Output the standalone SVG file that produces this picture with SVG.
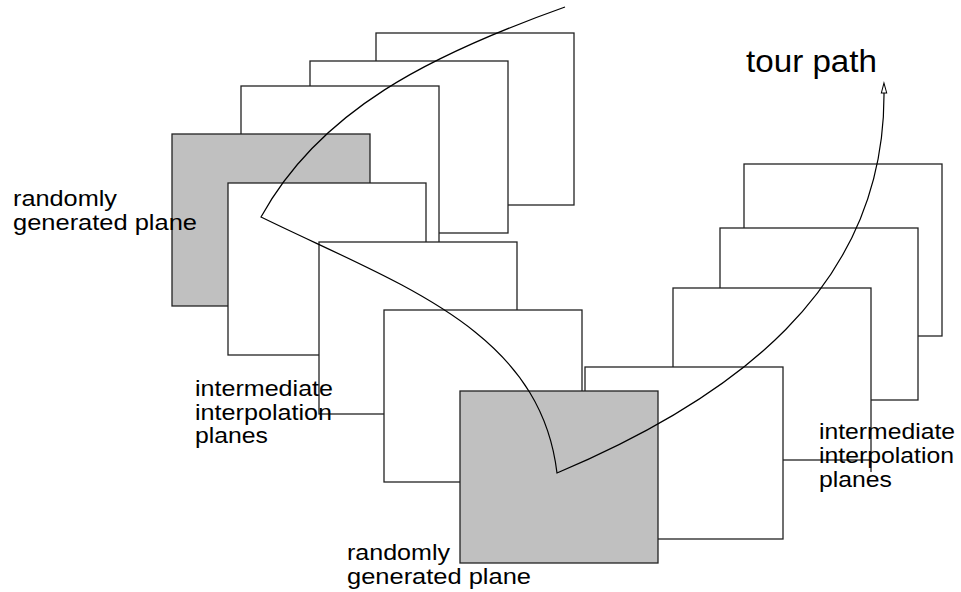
<svg xmlns="http://www.w3.org/2000/svg" width="961" height="592" viewBox="0 0 961 592">
  <style>
    .pl { fill: #ffffff; stroke: #222222; stroke-width: 1.3; }
    .gr { fill: #c0c0c0; stroke: #222222; stroke-width: 1.3; }
    .edge { stroke: #222222; stroke-width: 1.3; fill: none; }
    .tour { fill: none; stroke: #000000; stroke-width: 1.2; }
    .lbl { font-family: "Liberation Sans", Arial, Helvetica, sans-serif; font-size: 22px; fill: #000000; }
    .big { font-family: "Liberation Sans", Arial, Helvetica, sans-serif; font-size: 31px; fill: #000000; }
  </style>
  <defs>
    <marker id="arr" markerUnits="userSpaceOnUse" markerWidth="14" markerHeight="10" viewBox="0 0 14 10" refX="1" refY="5" orient="auto">
      <polygon points="1,2.3 11,5 1,7.7" fill="#ffffff" stroke="#000000" stroke-width="1"/>
    </marker>
  </defs>
  <rect width="961" height="592" fill="#ffffff"/>

  <g id="plane-a"><rect class="pl" x="376" y="33" width="198" height="172"/></g>
  <g id="plane-b"><rect class="pl" x="310" y="61" width="198" height="172"/></g>
  <g id="plane-c"><rect class="pl" x="241" y="86" width="198" height="172"/></g>
  <g id="plane-d"><rect class="gr" x="172" y="134" width="198" height="172"/></g>
  <g id="plane-e"><rect class="pl" x="228" y="183" width="198" height="172"/></g>
  <g id="plane-f"><rect class="pl" x="319" y="242" width="198" height="172"/></g>
  <g id="plane-g"><rect class="pl" x="384" y="310" width="198" height="172"/></g>

  <g id="plane-l"><rect class="pl" x="744" y="164" width="198" height="172"/></g>
  <g id="plane-k"><rect class="pl" x="720" y="228" width="198" height="172"/></g>
  <g id="plane-j"><rect class="pl" x="673" y="288" width="198" height="172"/><line class="edge" x1="871" y1="460" x2="871" y2="472"/></g>
  <g id="plane-i"><rect class="pl" x="585" y="367" width="198" height="172"/></g>
  <g id="plane-h"><rect class="gr" x="460" y="391" width="198" height="172"/></g>

  <g id="connectors">
    <path class="tour" d="M565,7 C430,55 320,110 261,217 C400,285 540,330 557,473 C730,400 885,290 884,93" marker-end="url(#arr)"/>
  </g>

  <g id="label-random-left">
    <text class="lbl" x="13" y="206" textLength="104" lengthAdjust="spacingAndGlyphs">randomly</text>
    <text class="lbl" x="13" y="230" textLength="184" lengthAdjust="spacingAndGlyphs">generated plane</text>
  </g>
  <g id="label-interp-left">
    <text class="lbl" x="195" y="396" textLength="138" lengthAdjust="spacingAndGlyphs">intermediate</text>
    <text class="lbl" x="195" y="420" textLength="137" lengthAdjust="spacingAndGlyphs">interpolation</text>
    <text class="lbl" x="195" y="443" textLength="73" lengthAdjust="spacingAndGlyphs">planes</text>
  </g>
  <g id="label-interp-right">
    <text class="lbl" x="819" y="439" textLength="136" lengthAdjust="spacingAndGlyphs">intermediate</text>
    <text class="lbl" x="819" y="463" textLength="135" lengthAdjust="spacingAndGlyphs">interpolation</text>
    <text class="lbl" x="819" y="487" textLength="73" lengthAdjust="spacingAndGlyphs">planes</text>
  </g>
  <g id="label-random-bottom">
    <text class="lbl" x="347" y="560" textLength="103" lengthAdjust="spacingAndGlyphs">randomly</text>
    <text class="lbl" x="347" y="584" textLength="184" lengthAdjust="spacingAndGlyphs">generated plane</text>
  </g>
  <g id="label-tour">
    <text class="big" x="746" y="72" textLength="131" lengthAdjust="spacingAndGlyphs">tour path</text>
  </g>
</svg>
